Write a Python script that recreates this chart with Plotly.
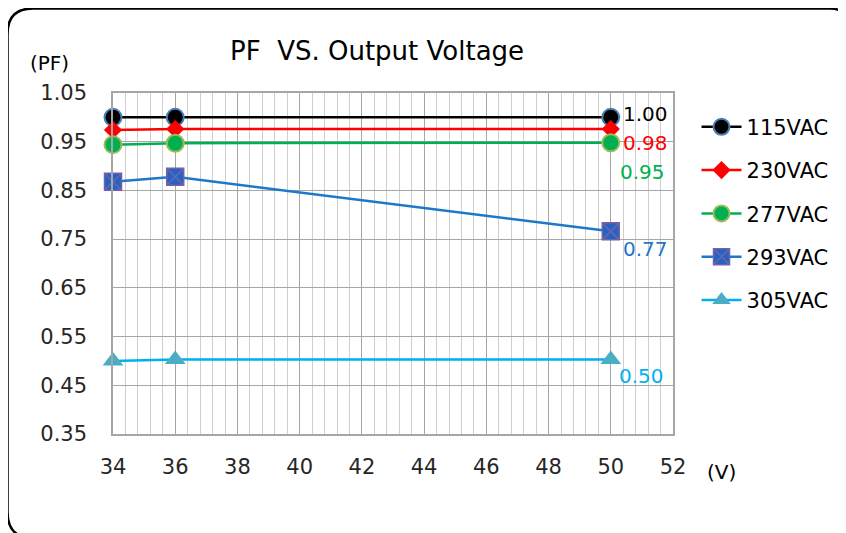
import plotly.graph_objects as go

OFF = 8  # page body margin
W, H = 846 - OFF, 533 - OFF
ML, MT = 113 - OFF, 93 - OFF
MR = W - (673 - OFF)
MB = H - (434 - OFF)

voltage = [34, 36, 50]
series_names = ["115VAC", "230VAC", "277VAC", "293VAC", "305VAC"]
pf_115 = [1.000, 1.000, 1.000]
pf_230 = [0.974, 0.976, 0.976]
pf_277 = [0.944, 0.947, 0.948]
pf_293 = [0.868, 0.878, 0.766]
pf_305 = [0.500, 0.503, 0.503]
end_labels = ["1.00", "0.98", "0.95", "0.77", "0.50"]

x_ticks = [34, 36, 38, 40, 42, 44, 46, 48, 50, 52]
y_ticks = [0.35, 0.45, 0.55, 0.65, 0.75, 0.85, 0.95, 1.05]

values = [pf_115, pf_230, pf_277, pf_293, pf_305]
line_colors = ["#000000", "#FF0000", "#00B050", "#1F77C8", "#00B0F0"]
marker_fill = ["#000000", "#FF0000", "#00B050", "#1F66C4", "#4BACC6"]
marker_line = ["#4A7EBB", "#FF0000", "#9BBB59", "#7A5FA8", "#4BACC6"]
marker_sym = ["circle", "diamond", "circle", "square-x", "triangle-up"]
marker_size = [17, 14, 17, 17, 18]
marker_lw = [2, 0, 2, 1.5, 0]
label_colors = ["#000000", "#FF0000", "#00B050", "#1F77C8", "#00B0F0"]
label_shift = [(10, 3), (10, -14), (7, -29), (10, -18), (6, -17)]

FONT = "DejaVu Sans"

fig = go.Figure()
for i, name in enumerate(series_names):
    fig.add_trace(go.Scatter(
        x=voltage, y=values[i], name=name, mode="lines+markers",
        legendgroup=name, cliponaxis=False,
        line=dict(color=line_colors[i], width=2.5),
        marker=dict(symbol=marker_sym[i], size=marker_size[i], color=marker_fill[i],
                    line=dict(color=marker_line[i], width=marker_lw[i])),
    ))
    fig.add_annotation(x=voltage[-1], y=values[i][-1], xref="x", yref="y",
                       text=end_labels[i], showarrow=False, xanchor="left",
                       yanchor="middle", xshift=label_shift[i][0], yshift=label_shift[i][1],
                       font=dict(family=FONT, size=20, color=label_colors[i]))

def px(xp):
    return (xp - OFF - ML) / (W - ML - MR)

def py(yp):
    return (H - MB - (yp - OFF)) / (H - MT - MB)

pts = [("M", 846, 16), ("Q", 841, 8.5), ("", 830, 8.5), ("L", 33, 8.5), ("Q", 7.5, 8.5), ("", 7.5, 34),
       ("L", 7.5, 512), ("Q", 7.5, 528), ("", 17, 534)]
path = " ".join(f"{c} {px(a):.5f},{py(b):.5f}" if c else f"{px(a):.5f},{py(b):.5f}" for c, a, b in pts)
fig.add_shape(type="path", path=path, xref="paper", yref="paper",
              line=dict(color="black", width=2.5), layer="above")

fig.add_annotation(x=px(377), y=py(51), xref="paper", yref="paper", text="PF  VS. Output Voltage",
                   showarrow=False, xanchor="center", yanchor="middle",
                   font=dict(family=FONT, size=26, color="#000000"))
fig.add_annotation(x=px(49), y=py(63), xref="paper", yref="paper", text="(PF)",
                   showarrow=False, xanchor="center", yanchor="middle",
                   font=dict(family=FONT, size=20, color="#000000"))
fig.add_annotation(x=px(721), y=py(472), xref="paper", yref="paper", text="(V)",
                   showarrow=False, xanchor="center", yanchor="middle",
                   font=dict(family=FONT, size=20, color="#000000"))

fig.update_xaxes(range=[34, 52], tickmode="array", tickvals=x_ticks,
                 ticktext=[str(t) for t in x_ticks],
                 showgrid=True, gridcolor="#A6A6A6", gridwidth=1.3,
                 minor=dict(tick0=34, dtick=0.4, showgrid=True, gridcolor="#CFCFCF", gridwidth=1.3),
                 showline=True, linecolor="#A6A6A6", linewidth=1.5, mirror=True,
                 zeroline=False, ticks="outside", ticklen=13, tickcolor="rgba(0,0,0,0)",
                 tickfont=dict(family=FONT, size=21, color="#262626"))
fig.update_yaxes(range=[0.35, 1.05], tickmode="array", tickvals=y_ticks,
                 ticktext=[f"{t:.2f}" for t in y_ticks],
                 showgrid=True, gridcolor="#A6A6A6", gridwidth=1.3,
                 showline=True, linecolor="#A6A6A6", linewidth=1.5, mirror=True,
                 zeroline=False, ticks="outside", ticklen=20, tickcolor="rgba(0,0,0,0)",
                 tickfont=dict(family=FONT, size=21, color="#262626"))

fig.update_layout(
    width=W, height=H,
    margin=dict(l=ML, r=MR, t=MT, b=MB, pad=0),
    paper_bgcolor="white", plot_bgcolor="white",
    showlegend=True,
    legend=dict(x=1.042, y=0.96, xanchor="left", yanchor="top",
                font=dict(family=FONT, size=21, color="#000000"),
                tracegroupgap=13, itemwidth=40, bgcolor="rgba(0,0,0,0)"),
)

fig.write_html("out.html")
